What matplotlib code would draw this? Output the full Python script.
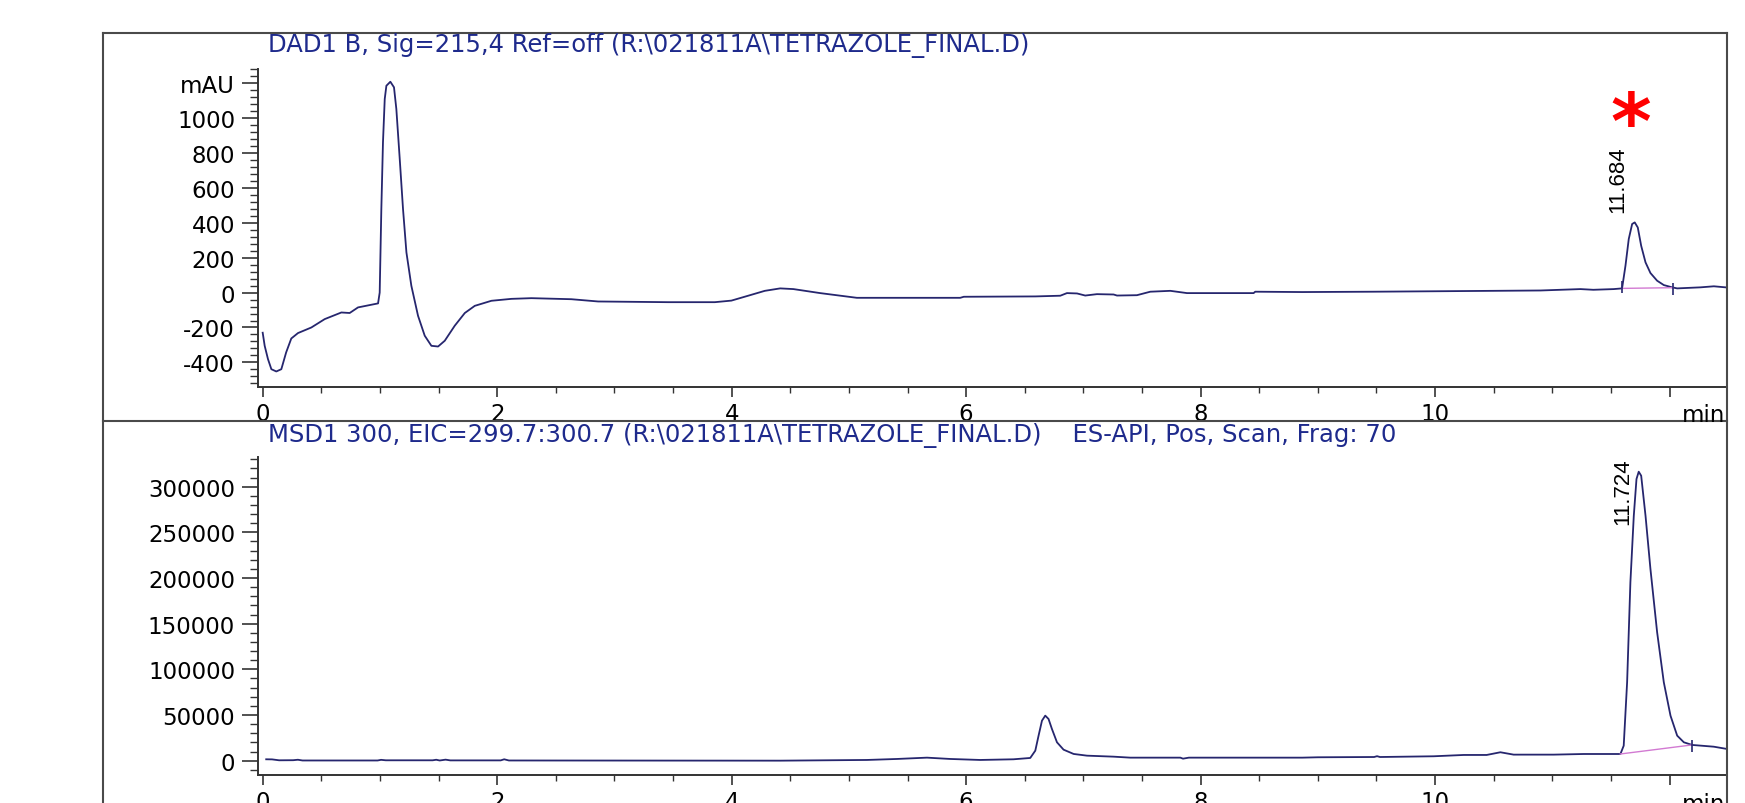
import numpy as np
import matplotlib
matplotlib.use("Agg")
import matplotlib.pyplot as plt
from matplotlib.lines import Line2D
from matplotlib.ticker import MultipleLocator

W, H = 1745, 804
plt.rcParams['font.family'] = ['DejaVu Sans']

# DAD1 B trace (time in min, mAU)
dad_t = [0.00, 0.017, 0.045, 0.074, 0.116, 0.159, 0.20, 0.244, 0.301, 0.415, 0.529, 0.671,
         0.742, 0.813, 0.984, 0.998, 1.012, 1.026, 1.041, 1.055, 1.089, 1.12, 1.14, 1.169,
         1.197, 1.226, 1.268, 1.325, 1.382, 1.439, 1.496, 1.553, 1.638, 1.724, 1.809, 1.951,
         2.121, 2.292, 2.633, 2.861, 3.458, 3.857, 3.998, 4.141, 4.283, 4.414, 4.527, 4.755,
         5.068, 5.95, 5.98, 6.59, 6.803, 6.86, 6.946, 7.016, 7.116, 7.258, 7.287, 7.457,
         7.571, 7.742, 7.884, 8.452, 8.466, 8.868, 9.476, 10.5, 10.9, 11.24, 11.35, 11.524,
         11.595, 11.624, 11.652, 11.681, 11.703, 11.729, 11.758, 11.795, 11.837, 11.894,
         11.951, 12.022, 12.065, 12.264, 12.378, 12.477]
dad_v = [-230, -305, -381, -439, -452, -439, -343, -263, -232, -200, -152, -114,
         -117, -85, -62, 0, 478, 861, 1109, 1185, 1208, 1176, 1052, 765,
         478, 230, 39, -133, -247, -305, -309, -276, -190, -117, -76, -47,
         -36, -32, -38, -51, -55, -55, -46, -18, 10, 24, 20, -3,
         -30, -30, -24, -22, -18, -3, -5, -17, -9, -11, -17, -15,
         5, 10, -3, -3, 5, 3, 5, 10, 12, 20, 16, 20,
         24, 154, 307, 393, 402, 373, 268, 173, 112, 68,
         43, 30, 24, 30, 36, 30]

# MSD1 EIC trace (time in min, counts)
msd_t = [0.03, 0.08, 0.14, 0.26, 0.30, 0.34, 0.98, 1.01, 1.05, 1.45, 1.48, 1.51, 1.56, 1.60,
         2.03, 2.06, 2.10, 4.414, 5.154, 5.41, 5.666, 5.864, 6.12, 6.404, 6.547, 6.59,
         6.618, 6.647, 6.675, 6.703, 6.732, 6.775, 6.831, 6.917, 7.031, 7.258, 7.4, 7.827,
         7.85, 7.9, 8.868, 9.0, 9.48, 9.505, 9.53, 9.988, 10.244, 10.44, 10.557, 10.67,
         11.012, 11.268, 11.581, 11.609, 11.638, 11.666, 11.695, 11.718, 11.737, 11.758,
         11.795, 11.837, 11.894, 11.951, 12.008, 12.065, 12.122, 12.193, 12.377, 12.477]
msd_v = [1500, 1400, 400, 500, 1000, 200, 200, 900, 400, 400, 1000, 200, 1100, 300,
         300, 1500, 200, 0, 770, 1860, 3300, 1860, 770, 1500, 2960, 10950,
         27400, 43800, 49300, 45650, 34700, 20100, 12050, 7340, 5480, 4380, 3300, 3300,
         2200, 3300, 3300, 3700, 4000, 4900, 4000, 4800, 6240, 6240, 9200, 6600,
         6600, 7300, 7300, 16400, 85800, 195300, 268200, 308400, 316400, 312000,
         268200, 209900, 140600, 85800, 49300, 27400, 20100, 17200, 15300, 13100]

# integration baselines
dad_base_t = [11.595, 12.03]
dad_base_v = [24, 28]
msd_base_t = [11.58, 12.19]
msd_base_v = [7300, 17200]

dad_peak = (11.684, 402)
msd_peak = (11.724, 316400)

dad_title = r"DAD1 B, Sig=215,4 Ref=off (R:\021811A\TETRAZOLE_FINAL.D)"
msd_title = r"MSD1 300, EIC=299.7:300.7 (R:\021811A\TETRAZOLE_FINAL.D)    ES-API, Pos, Scan, Frag: 70"

dad_yticks = [-400, -200, 0, 200, 400, 600, 800, 1000, 1200]
dad_ylabels = ['-400', '-200', '0', '200', '400', '600', '800', '1000', 'mAU']
msd_yticks = [0, 50000, 100000, 150000, 200000, 250000, 300000]
x_ticks = [0, 2, 4, 6, 8, 10, 12]
x_labels = ['0', '2', '4', '6', '8', '10', '']

line_c = '#26266e'
title_c = '#1e2a8c'
base_c = '#d27ad2'
tick_fs = 16.5
peak_font = ['Liberation Sans', 'DejaVu Sans']

fig = plt.figure(figsize=(W / 100, H / 100), dpi=100)
fig.patch.set_facecolor('white')

# outer frame of the report
fc = '#4a4a4a'
fig.add_artist(Line2D([103 / W, 103 / W], [0, 1 - 34 / H], color=fc, lw=1.5, transform=fig.transFigure))
fig.add_artist(Line2D([1727 / W, 1727 / W], [0, 1 - 34 / H], color=fc, lw=1.5, transform=fig.transFigure))
fig.add_artist(Line2D([103 / W, 1727 / W], [1 - 34 / H, 1 - 34 / H], color=fc, lw=1.5, transform=fig.transFigure))
fig.add_artist(Line2D([103 / W, 1727 / W], [1 - 422 / H, 1 - 422 / H], color=fc, lw=1.5, transform=fig.transFigure))

left = 258 / W
width = (1727 - 258) / W
ax1 = fig.add_axes([left, 1 - 388 / H, width, (388 - 70) / H])
ax2 = fig.add_axes([left, 1 - 776 / H, width, (776 - 458) / H])


def style(ax, ymin):
    for s in ['top', 'right']:
        ax.spines[s].set_visible(False)
    for s in ['left', 'bottom']:
        ax.spines[s].set_color('#333333')
        ax.spines[s].set_linewidth(1.4)
    ax.set_xlim(-0.04, 12.49)
    ax.set_xticks(x_ticks)
    ax.set_xticklabels(x_labels)
    ax.xaxis.set_minor_locator(MultipleLocator(0.5))
    ax.yaxis.set_minor_locator(MultipleLocator(ymin))
    ax.tick_params(axis='y', which='major', length=11.5, width=1.2, pad=5, labelsize=tick_fs, color='#333333')
    ax.tick_params(axis='y', which='minor', length=5.8, width=1.0, color='#333333')
    ax.tick_params(axis='x', which='major', length=7.5, width=1.2, pad=3, labelsize=tick_fs, color='#333333')
    ax.tick_params(axis='x', which='minor', length=4, width=1.0, color='#333333')
    ax.set_facecolor('none')


# top: DAD trace
ax1.plot(dad_t, dad_v, color=line_c, lw=1.3)
ax1.plot(dad_base_t, dad_base_v, color=base_c, lw=1.0)
ax1.plot([dad_base_t[0]], [dad_base_v[0] + 8], marker='|', ms=8, color=line_c, mew=1.2)
ax1.plot([dad_base_t[1]], [dad_base_v[1] - 10], marker='|', ms=8, color=line_c, mew=1.2)
style(ax1, 40)
ax1.set_ylim(-541, 1281)
ax1.set_yticks(dad_yticks)
ax1.set_yticklabels(dad_ylabels)
ax1.text(dad_peak[0] - 0.04, dad_peak[1] + 60, f"{dad_peak[0]:.3f}", rotation=90,
         ha='right', va='bottom', fontsize=16, family=peak_font)
ax1.text(dad_peak[0] - 0.015, 830, '*', color='#ff0000', fontsize=56, fontweight='bold',
         ha='center', va='baseline')

# bottom: MSD trace
ax2.plot(msd_t, msd_v, color=line_c, lw=1.3)
ax2.plot(msd_base_t, msd_base_v, color=base_c, lw=1.0)
ax2.plot([msd_base_t[1]], [msd_base_v[1] - 1500], marker='|', ms=8, color=line_c, mew=1.2)
style(ax2, 10000)
ax2.set_ylim(-15700, 332500)
ax2.set_yticks(msd_yticks)
ax2.set_yticklabels([str(v) for v in msd_yticks])
ax2.text(msd_peak[0] - 0.03, 332500, f"{msd_peak[0]:.3f}", rotation=90,
         ha='right', va='top', fontsize=16, family=peak_font)

# titles and unit labels
fig.text(268 / W, 1 - 46 / H, dad_title, color=title_c, fontsize=17.5, ha='left', va='center')
fig.text(268 / W, 1 - 436 / H, msd_title, color=title_c, fontsize=17.5, ha='left', va='center')
fig.text(1725 / W, 1 - 404 / H, 'min', fontsize=tick_fs, ha='right', va='top')
fig.text(1725 / W, 1 - 793 / H, 'min', fontsize=tick_fs, ha='right', va='top')

fig.savefig('out.png', dpi=100)
